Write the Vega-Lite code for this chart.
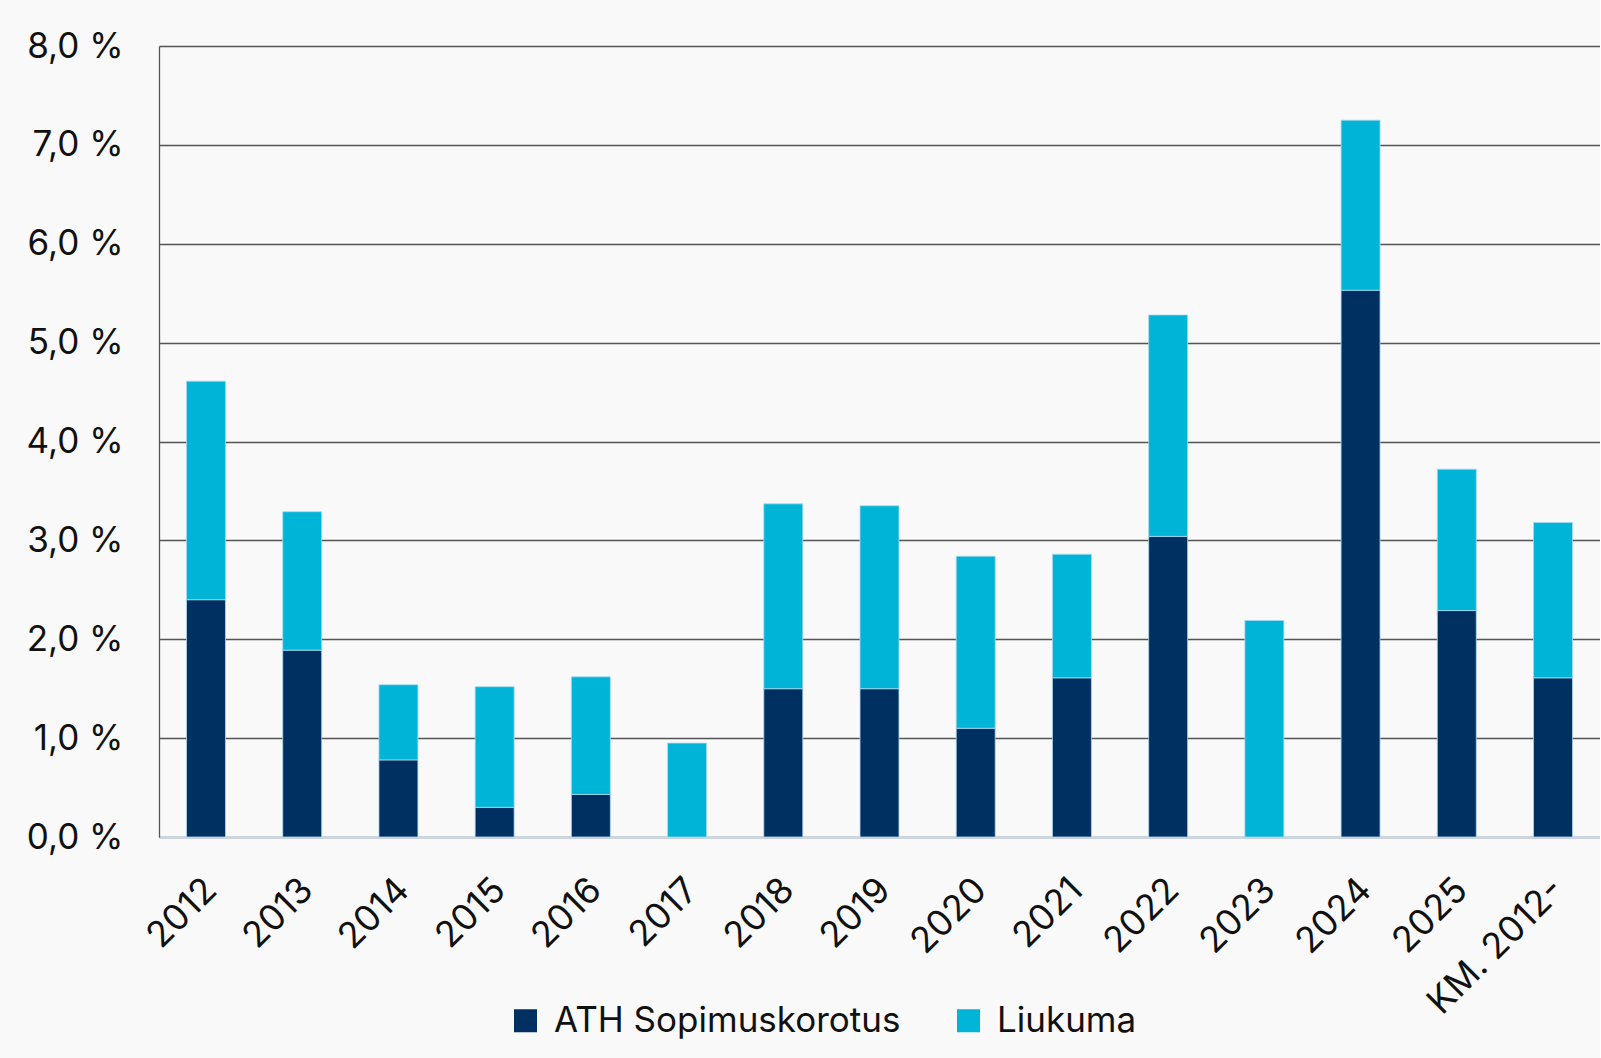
{
  "$schema": "https://vega.github.io/schema/vega-lite/v6.json",
  "autosize": {"type": "none"},
  "width": 1441,
  "height": 791,
  "padding": {"left": 159, "top": 46, "right": 0, "bottom": 221},
  "background": "#f9f9f9",
  "config": {
    "view": {"stroke": null},
    "font": "Inter"
  },
  "data": {
    "values": [
      {"vuosi": "2012", "sarja": "ATH Sopimuskorotus", "arvo": 2.4, "o": 1},
      {"vuosi": "2012", "sarja": "Liukuma", "arvo": 2.21, "o": 2},
      {"vuosi": "2013", "sarja": "ATH Sopimuskorotus", "arvo": 1.89, "o": 1},
      {"vuosi": "2013", "sarja": "Liukuma", "arvo": 1.4, "o": 2},
      {"vuosi": "2014", "sarja": "ATH Sopimuskorotus", "arvo": 0.78, "o": 1},
      {"vuosi": "2014", "sarja": "Liukuma", "arvo": 0.76, "o": 2},
      {"vuosi": "2015", "sarja": "ATH Sopimuskorotus", "arvo": 0.3, "o": 1},
      {"vuosi": "2015", "sarja": "Liukuma", "arvo": 1.22, "o": 2},
      {"vuosi": "2016", "sarja": "ATH Sopimuskorotus", "arvo": 0.43, "o": 1},
      {"vuosi": "2016", "sarja": "Liukuma", "arvo": 1.19, "o": 2},
      {"vuosi": "2017", "sarja": "ATH Sopimuskorotus", "arvo": 0, "o": 1},
      {"vuosi": "2017", "sarja": "Liukuma", "arvo": 0.95, "o": 2},
      {"vuosi": "2018", "sarja": "ATH Sopimuskorotus", "arvo": 1.5, "o": 1},
      {"vuosi": "2018", "sarja": "Liukuma", "arvo": 1.87, "o": 2},
      {"vuosi": "2019", "sarja": "ATH Sopimuskorotus", "arvo": 1.5, "o": 1},
      {"vuosi": "2019", "sarja": "Liukuma", "arvo": 1.85, "o": 2},
      {"vuosi": "2020", "sarja": "ATH Sopimuskorotus", "arvo": 1.1, "o": 1},
      {"vuosi": "2020", "sarja": "Liukuma", "arvo": 1.74, "o": 2},
      {"vuosi": "2021", "sarja": "ATH Sopimuskorotus", "arvo": 1.61, "o": 1},
      {"vuosi": "2021", "sarja": "Liukuma", "arvo": 1.25, "o": 2},
      {"vuosi": "2022", "sarja": "ATH Sopimuskorotus", "arvo": 3.04, "o": 1},
      {"vuosi": "2022", "sarja": "Liukuma", "arvo": 2.24, "o": 2},
      {"vuosi": "2023", "sarja": "ATH Sopimuskorotus", "arvo": 0, "o": 1},
      {"vuosi": "2023", "sarja": "Liukuma", "arvo": 2.19, "o": 2},
      {"vuosi": "2024", "sarja": "ATH Sopimuskorotus", "arvo": 5.53, "o": 1},
      {"vuosi": "2024", "sarja": "Liukuma", "arvo": 1.72, "o": 2},
      {"vuosi": "2025", "sarja": "ATH Sopimuskorotus", "arvo": 2.29, "o": 1},
      {"vuosi": "2025", "sarja": "Liukuma", "arvo": 1.43, "o": 2},
      {"vuosi": "KM. 2012-", "sarja": "ATH Sopimuskorotus", "arvo": 1.61, "o": 1},
      {"vuosi": "KM. 2012-", "sarja": "Liukuma", "arvo": 1.57, "o": 2}
    ]
  },
  "mark": {"type": "bar", "stroke": "#a9d9ee", "strokeWidth": 0.8},
  "encoding": {
    "x": {
      "field": "vuosi",
      "type": "nominal",
      "sort": null,
      "scale": {"paddingInner": 0.595, "paddingOuter": 0.286},
      "axis": {
        "title": null,
        "labelAngle": -45,
        "labelAlign": "right",
        "labelBaseline": "top",
        "labelFont": "Inter",
        "labelFontSize": 36,
        "labelColor": "#111111",
        "labelPadding": 35,
        "labelOffset": -7,
        "ticks": false,
        "domainColor": "#c3dbf5",
        "domainWidth": 1.5,
        "grid": false
      }
    },
    "y": {
      "field": "arvo",
      "type": "quantitative",
      "stack": "zero",
      "scale": {"domain": [0, 8]},
      "axis": {
        "title": null,
        "values": [0, 1, 2, 3, 4, 5, 6, 7, 8],
        "labelExpr": "replace(format(datum.value, '.1f'), '.', ',') + ' %'",
        "labelFont": "Inter",
        "labelFontSize": 35,
        "labelColor": "#111111",
        "labelPadding": 36,
        "ticks": false,
        "domainColor": "#555555",
        "domainWidth": 1.3,
        "grid": true,
        "gridColor": "#555555",
        "gridWidth": 1.3,
        "gridOpacity": 1
      }
    },
    "color": {
      "field": "sarja",
      "type": "nominal",
      "scale": {
        "domain": ["ATH Sopimuskorotus", "Liukuma"],
        "range": ["#002f62", "#00b4d8"]
      },
      "legend": {
        "title": null,
        "orient": "none",
        "direction": "horizontal",
        "legendX": 349,
        "legendY": 957,
        "symbolType": "square",
        "symbolSize": 529,
        "symbolStrokeWidth": 0,
        "symbolOpacity": 1,
        "labelFont": "Inter",
        "labelFontSize": 35,
        "labelColor": "#111111",
        "labelOffset": 11,
        "columnPadding": 50,
        "labelLimit": 600
      }
    },
    "order": {"field": "o", "type": "quantitative"}
  }
}
